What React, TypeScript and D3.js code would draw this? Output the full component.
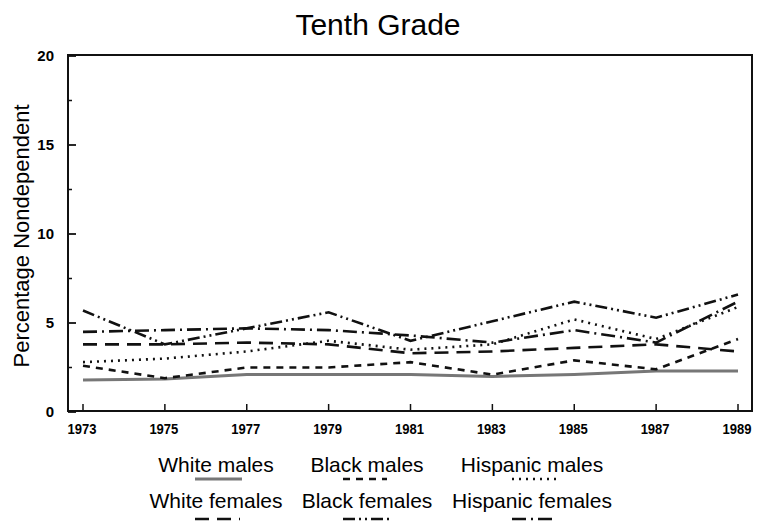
import React from "react";
import * as d3 from "d3";

const years = [1973, 1975, 1977, 1979, 1981, 1983, 1985, 1987, 1989];
const whiteMales = [1.8, 1.85, 2.1, 2.1, 2.1, 2.0, 2.1, 2.3, 2.3];
const blackMales = [2.6, 1.9, 2.5, 2.5, 2.8, 2.1, 2.9, 2.4, 4.1];
const hispanicMales = [2.8, 3.0, 3.4, 4.0, 3.5, 3.8, 5.2, 4.1, 5.9];
const whiteFemales = [3.8, 3.8, 3.9, 3.8, 3.3, 3.4, 3.6, 3.8, 3.4];
const blackFemales = [5.7, 3.8, 4.7, 5.6, 4.0, 5.1, 6.2, 5.3, 6.6];
const hispanicFemales = [4.5, 4.6, 4.7, 4.6, 4.3, 3.9, 4.6, 3.9, 6.2];
const yTicks = [0, 5, 10, 15, 20];
const yMinor = [2.5, 7.5, 12.5, 17.5];

const series = [
  { name: "White males", values: whiteMales, dash: "", color: "#777", width: 3 },
  { name: "Black males", values: blackMales, dash: "7,6", color: "#111", width: 2.6 },
  { name: "Hispanic males", values: hispanicMales, dash: "2,5", color: "#111", width: 2.6 },
  { name: "White females", values: whiteFemales, dash: "14,8", color: "#111", width: 2.6 },
  { name: "Black females", values: blackFemales, dash: "12,4,2,4,2,4", color: "#111", width: 2.6 },
  { name: "Hispanic females", values: hispanicFemales, dash: "14,5,2,5", color: "#111", width: 2.6 },
];

const legendPos = [
  { cx: 216, ty: 472, ly: 479, x1: 195, x2: 242 },
  { cx: 367, ty: 472, ly: 479, x1: 343, x2: 387 },
  { cx: 532, ty: 472, ly: 479, x1: 512, x2: 557 },
  { cx: 216, ty: 508, ly: 519, x1: 195, x2: 240 },
  { cx: 367, ty: 508, ly: 519, x1: 343, x2: 392 },
  { cx: 532, ty: 508, ly: 519, x1: 512, x2: 557 },
];

export default function App() {
  const left = 68, right = 752, top = 55, bottom = 411;
  const x = d3.scaleLinear().domain([1973, 1989]).range([83, 738]);
  const y = d3.scaleLinear().domain([0, 20]).range([412, 56]);
  const line = d3
    .line<number>()
    .x((_, i) => x(years[i]))
    .y((v) => y(v));
  const font = "'Liberation Sans', Arial, Helvetica, sans-serif";
  return (
    <svg
      width={759}
      height={522}
      style={{ position: "absolute", left: 0, top: 0, background: "#fff" }}
      fontFamily={font}
    >
      <rect x={0} y={0} width={759} height={522} fill="#fff" />
      <text x={378} y={35} textAnchor="middle" fontSize={30}>
        Tenth Grade
      </text>
      <text
        transform={`translate(29,236) rotate(-90)`}
        textAnchor="middle"
        fontSize={22}
      >
        Percentage Nondependent
      </text>
      {/* frame */}
      <rect x={left} y={top} width={right - left} height={bottom - top} fill="none" stroke="#111" strokeWidth={2} />
      {/* y ticks */}
      {yTicks.map((t) => (
        <g key={t}>
          <line x1={left} x2={left + 8} y1={y(t)} y2={y(t)} stroke="#111" strokeWidth={1.8} />
          <text x={54} y={y(t) + 5} textAnchor="end" fontSize={15} fontWeight="bold">
            {t}
          </text>
        </g>
      ))}
      {yMinor.map((t) => (
        <line key={t} x1={left} x2={left + 4} y1={y(t)} y2={y(t)} stroke="#111" strokeWidth={1.5} />
      ))}
      {/* x ticks */}
      {years.map((yr) => (
        <g key={yr}>
          <line x1={x(yr)} x2={x(yr)} y1={bottom} y2={bottom - 7} stroke="#111" strokeWidth={1.5} />
          <text
            x={x(yr) - 1}
            y={434}
            textAnchor="middle"
            fontSize={15}
            fontWeight="bold"
            textLength={29}
            lengthAdjust="spacingAndGlyphs"
          >
            {yr}
          </text>
        </g>
      ))}
      {/* series */}
      {series.map((s) => (
        <path
          key={s.name}
          d={line(s.values) || ""}
          fill="none"
          stroke={s.color}
          strokeWidth={s.width}
          strokeDasharray={s.dash}
          strokeLinecap="butt"
        />
      ))}
      {/* legend */}
      {series.map((s, i) => {
        const p = legendPos[i];
        return (
          <g key={s.name}>
            <text x={p.cx} y={p.ty} textAnchor="middle" fontSize={21}>
              {s.name}
            </text>
            <line
              x1={p.x1}
              x2={p.x2}
              y1={p.ly}
              y2={p.ly}
              stroke={s.color}
              strokeWidth={s.width}
              strokeDasharray={s.dash}
            />
          </g>
        );
      })}
    </svg>
  );
}
